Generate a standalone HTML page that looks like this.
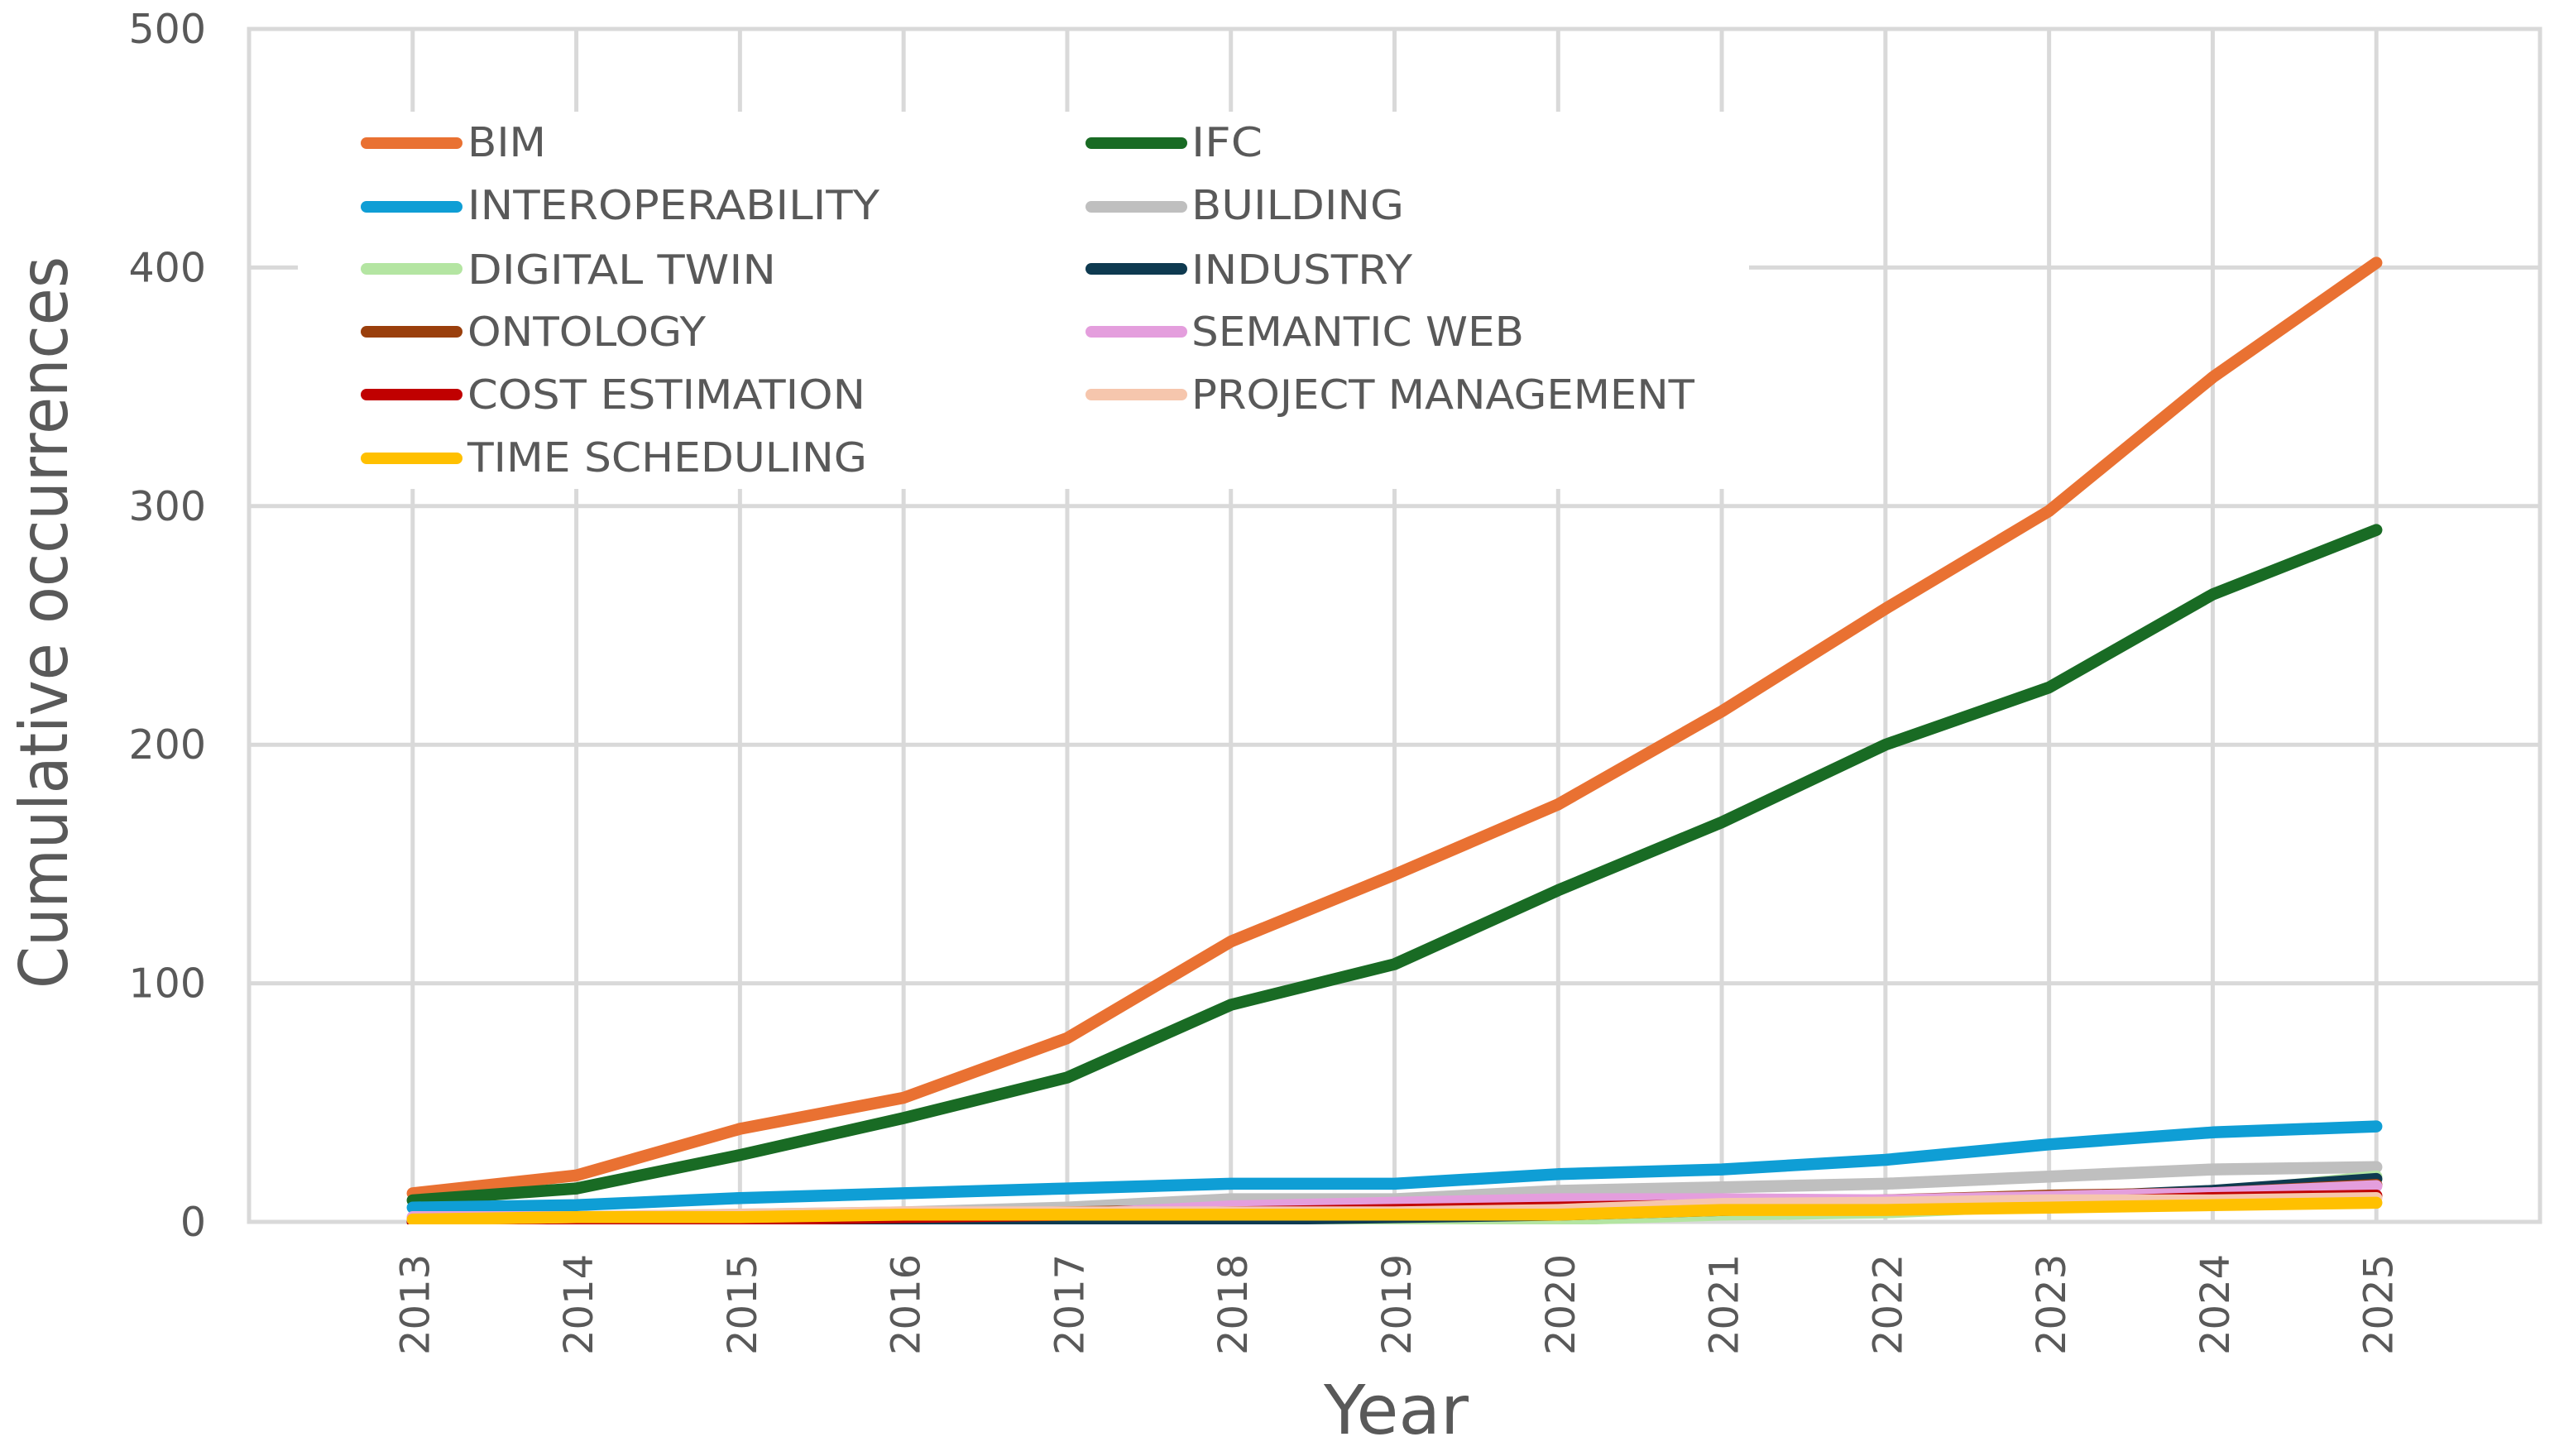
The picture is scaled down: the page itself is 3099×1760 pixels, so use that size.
<!DOCTYPE html>
<html lang="en">
<head>
<meta charset="utf-8">
<title>Cumulative occurrences by year</title>
<style>
html,body{margin:0;padding:0;background:#fff;}
svg{display:block;}
text{font-family:"DejaVu Sans","Liberation Sans",sans-serif;fill:#595959;}
.leg{font-size:49px;}
</style>
</head>
<body>
<svg id="chart" xmlns="http://www.w3.org/2000/svg" width="3099" height="1760" viewBox="0 0 3099 1760">
  <rect x="0" y="0" width="3099" height="1760" fill="#ffffff"/>
  <defs>
    <clipPath id="plot-clip"><rect x="0" y="0" width="3099" height="1480"/></clipPath>
  </defs>
  <g id="grid"></g>
  <g id="y-ticks"></g>
  <g id="x-ticks"></g>
  <g id="series" clip-path="url(#plot-clip)"></g>

  <text transform="translate(81,1195) rotate(-90)" font-size="80" textLength="885" lengthAdjust="spacingAndGlyphs">Cumulative occurrences</text>
  <text x="1600" y="1733" font-size="82" textLength="175" lengthAdjust="spacingAndGlyphs">Year</text>

  <g>
    <rect x="360" y="135" width="1754" height="456" fill="#ffffff"/>

    <g>
      <line x1="443" x2="552" y1="173" y2="173" stroke="#e97132" stroke-width="14" stroke-linecap="round"/>
      <text class="leg" x="565" y="189" textLength="95" lengthAdjust="spacingAndGlyphs">BIM</text>
    </g>
    <g>
      <line x1="1319" x2="1428" y1="173" y2="173" stroke="#196b24" stroke-width="14" stroke-linecap="round"/>
      <text class="leg" x="1440" y="189" textLength="86" lengthAdjust="spacingAndGlyphs">IFC</text>
    </g>
    <g>
      <line x1="443" x2="552" y1="250" y2="250" stroke="#0f9ed5" stroke-width="14" stroke-linecap="round"/>
      <text class="leg" x="565" y="265" textLength="498" lengthAdjust="spacingAndGlyphs">INTEROPERABILITY</text>
    </g>
    <g>
      <line x1="1319" x2="1428" y1="250" y2="250" stroke="#bfbfbf" stroke-width="14" stroke-linecap="round"/>
      <text class="leg" x="1440" y="265" textLength="257" lengthAdjust="spacingAndGlyphs">BUILDING</text>
    </g>
    <g>
      <line x1="443" x2="552" y1="325" y2="325" stroke="#b4e5a2" stroke-width="14" stroke-linecap="round"/>
      <text class="leg" x="565" y="343" textLength="373" lengthAdjust="spacingAndGlyphs">DIGITAL TWIN</text>
    </g>
    <g>
      <line x1="1319" x2="1428" y1="325" y2="325" stroke="#0e3a50" stroke-width="14" stroke-linecap="round"/>
      <text class="leg" x="1440" y="343" textLength="267" lengthAdjust="spacingAndGlyphs">INDUSTRY</text>
    </g>
    <g>
      <line x1="443" x2="552" y1="401" y2="401" stroke="#9a3f0c" stroke-width="14" stroke-linecap="round"/>
      <text class="leg" x="565" y="418" textLength="288" lengthAdjust="spacingAndGlyphs">ONTOLOGY</text>
    </g>
    <g>
      <line x1="1319" x2="1428" y1="401" y2="401" stroke="#e49edd" stroke-width="14" stroke-linecap="round"/>
      <text class="leg" x="1440" y="418" textLength="402" lengthAdjust="spacingAndGlyphs">SEMANTIC WEB</text>
    </g>
    <g>
      <line x1="443" x2="552" y1="477" y2="477" stroke="#c00000" stroke-width="14" stroke-linecap="round"/>
      <text class="leg" x="565" y="494" textLength="481" lengthAdjust="spacingAndGlyphs">COST ESTIMATION</text>
    </g>
    <g>
      <line x1="1319" x2="1428" y1="477" y2="477" stroke="#f6c6ad" stroke-width="14" stroke-linecap="round"/>
      <text class="leg" x="1440" y="494" textLength="608" lengthAdjust="spacingAndGlyphs">PROJECT MANAGEMENT</text>
    </g>
    <g>
      <line x1="443" x2="552" y1="554" y2="554" stroke="#ffc000" stroke-width="14" stroke-linecap="round"/>
      <text class="leg" x="565" y="570" textLength="483" lengthAdjust="spacingAndGlyphs">TIME SCHEDULING</text>
    </g>
  </g>
</svg>
<script>
const years = [2013,2014,2015,2016,2017,2018,2019,2020,2021,2022,2023,2024,2025];
const yTicks = [0,100,200,300,400,500];

const bim = [12,19.5,39,52,77,117.5,145.5,175,214,257,298,354,402];
const ifc = [9,14,28,43.5,60.5,91,108,139,167.5,200,224,263,290];
const interoperability = [6,7,10,12,14,16,16,20,22,26,32.5,37.5,40];
const building = [1,2,3,4,6,9.5,9.5,13,14.5,16,19,22,23];
const digitalTwin = [0,0,0,0,0,0,1,1,3,4,7,12,19];
const industry = [0,0,0,1,1,1,2,3,5,7,10,13,18];
const ontology = [1,2,2,3,4,5,6,7,8,9,11,12,15.5];
const semanticWeb = [2,2,2,3,3,6.5,8,9.5,9.5,9,10.5,12,15];
const costEstimation = [0,0,1,2,3,4,5,6,7,7,8,10,11];
const projectManagement = [1,2,3,4,4,4,4,5,7.5,8,9,9,10];
const timeScheduling = [1,2,2,3,3,3,3,3,5,5,6,7,8];

const lineColors = ['#e97132','#196b24','#0f9ed5','#bfbfbf','#b4e5a2','#0e3a50','#9a3f0c','#e49edd','#c00000','#f6c6ad','#ffc000'];
const lineNames = ['bim','ifc','interoperability','building','digital-twin','industry','ontology','semantic-web','cost-estimation','project-management','time-scheduling'];
const lineValues = [bim,ifc,interoperability,building,digitalTwin,industry,ontology,semanticWeb,costEstimation,projectManagement,timeScheduling];

const NS = 'http://www.w3.org/2000/svg';
const plotLeft = 301, plotRight = 3070, plotTop = 35, plotBottom = 1477;
const yMax = 500;

function xScale(i){
  return plotLeft + (i + 1) * (plotRight - plotLeft) / (years.length + 1);
}
function yScale(v){
  return plotBottom - (v / yMax) * (plotBottom - plotTop);
}

const grid = document.getElementById('grid');
const yG = document.getElementById('y-ticks');
const xG = document.getElementById('x-ticks');
const seriesG = document.getElementById('series');

function gridLine(x1,y1,x2,y2){
  const l = document.createElementNS(NS,'line');
  l.setAttribute('x1',x1);
  l.setAttribute('y1',y1);
  l.setAttribute('x2',x2);
  l.setAttribute('y2',y2);
  l.setAttribute('stroke','#d9d9d9');
  l.setAttribute('stroke-width','5');
  l.setAttribute('stroke-linecap','square');
  return l;
}

yTicks.forEach(function(t){
  const l = gridLine(plotLeft, yScale(t), plotRight, yScale(t));
  
  
  grid.appendChild(l);

  const txt = document.createElementNS(NS,'text');
  
  
  txt.setAttribute('x', 249);
  txt.setAttribute('y', yScale(t) + 17);
  txt.setAttribute('text-anchor','end');
  txt.setAttribute('font-size','49');
  txt.textContent = t;
  yG.appendChild(txt);
});

[plotLeft, plotRight].forEach(function(x){
  const l = gridLine(x, plotTop, x, plotBottom);
  
  
  grid.appendChild(l);
});

years.forEach(function(y,i){
  const l = gridLine(xScale(i), plotTop, xScale(i), plotBottom);
  
  
  grid.appendChild(l);

  const txt = document.createElementNS(NS,'text');
  
  
  txt.setAttribute('transform','translate(' + (xScale(i) + 19.5) + ',1638) rotate(-90)');
  txt.setAttribute('font-size','48');
  txt.textContent = y;
  xG.appendChild(txt);
});

lineValues.forEach(function(vals,s){
  const p = document.createElementNS(NS,'polyline');
  
  
  p.setAttribute('points', vals.map(function(v,i){ return xScale(i).toFixed(1) + ',' + yScale(v).toFixed(1); }).join(' '));
  p.setAttribute('fill','none');
  p.setAttribute('stroke',lineColors[s]);
  p.setAttribute('stroke-width','14.5');
  p.setAttribute('stroke-linecap','round');
  p.setAttribute('stroke-linejoin','round');
  seriesG.appendChild(p);
});
</script>
</body>
</html>
